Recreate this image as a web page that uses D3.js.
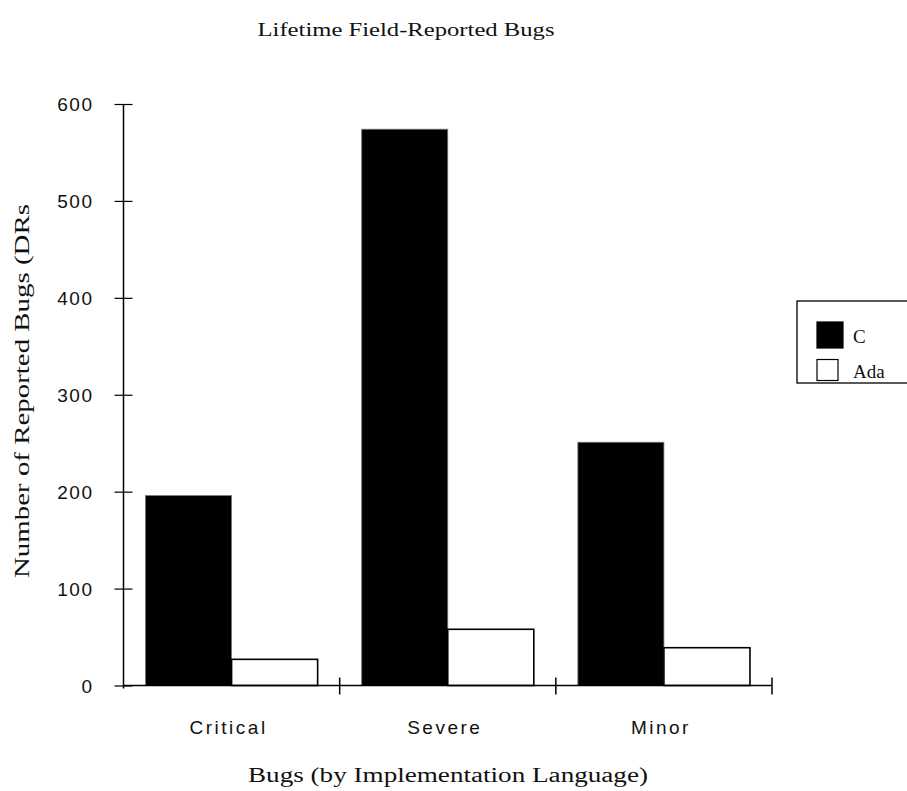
<!DOCTYPE html>
<html>
<head>
<meta charset="utf-8">
<script src="https://cdn.jsdelivr.net/npm/d3@7/dist/d3.min.js"></script>
<style>
  html, body { margin: 0; padding: 0; background: #fff; }
  svg { display: block; }
</style>
</head>
<body>
<script>
const categories = ["Critical", "Severe", "Minor"];
const seriesNames = ["C", "Ada"];
const cValues = [196, 574, 251];
const adaValues = [27, 58, 39];
const yTicks = [0, 100, 200, 300, 400, 500, 600];
const titleText = "Lifetime Field-Reported Bugs";
const xTitleText = "Bugs (by Implementation Language)";
const yTitleText = "Number of Reported Bugs (DRs";

const W = 907, H = 791;
const svg = d3.select("body").append("svg").attr("width", W).attr("height", H);

const serif = "'Liberation Serif', 'DejaVu Serif', serif";
const sans = "'Liberation Sans', Arial, sans-serif";

const x0 = d3.scaleBand().domain(categories).range([123.5, 772]).paddingInner(0).paddingOuter(0);
const x1 = d3.scaleBand().domain(seriesNames).range([0, x0.bandwidth()]).paddingInner(0).paddingOuter(0.256);
const y = d3.scaleLinear().domain([0, 600]).range([685.5, 104]);

const data = categories.map((c, i) => ({ cat: c, vals: [
  { s: "C", v: cValues[i] }, { s: "Ada", v: adaValues[i] } ] }));

// bars
const g = svg.append("g");
g.selectAll("g.cat").data(data).join("g")
  .attr("transform", d => `translate(${x0(d.cat)},0)`)
  .selectAll("rect").data(d => d.vals).join("rect")
  .attr("x", d => x1(d.s))
  .attr("width", x1.bandwidth())
  .attr("y", d => y(d.v))
  .attr("height", d => y(0) - y(d.v))
  .attr("fill", d => d.s === "C" ? "#000" : "#fff")
  .attr("stroke", d => d.s === "C" ? "#777" : "#000")
  .attr("stroke-width", d => d.s === "C" ? 0.8 : 1.6);

// y axis
const yAxis = d3.axisLeft(y).tickValues(yTicks).tickSize(0).tickPadding(30);
const ya = svg.append("g").attr("transform", "translate(123.5,0)").call(yAxis);
ya.select(".domain").remove();
ya.append("line").attr("x1", 0).attr("x2", 0).attr("y1", y(600)).attr("y2", y(0) + 3)
  .attr("stroke", "#000").attr("stroke-width", 1.5);
ya.selectAll(".tick").append("line").attr("x1", -9).attr("x2", 9)
  .attr("stroke", "#000").attr("stroke-width", 1.2);
ya.selectAll(".tick text").attr("font-family", sans).attr("font-size", 19)
  .attr("letter-spacing", "1.5px").attr("fill", "#111").attr("dy", "0.36em");

// x axis
const xa = svg.append("g").attr("transform", `translate(0,${y(0)})`);
xa.append("line").attr("x1", 123.5).attr("x2", 772).attr("stroke", "#000").attr("stroke-width", 1.5);
const bounds = categories.map(c => x0(c)).concat([x0(categories[categories.length - 1]) + x0.bandwidth()]);
xa.selectAll("line.tk").data(bounds.slice(1)).join("line").attr("class", "tk")
  .attr("x1", d => d).attr("x2", d => d).attr("y1", -8).attr("y2", 9)
  .attr("stroke", "#000").attr("stroke-width", 1.5);
xa.selectAll("text.cl").data(categories).join("text").attr("class", "cl")
  .attr("x", d => x0(d) + x0.bandwidth() / 2 - 3)
  .attr("y", 48)
  .attr("text-anchor", "middle")
  .attr("font-family", sans).attr("font-size", 19).attr("letter-spacing", "2.5px")
  .attr("fill", "#111")
  .text(d => d);

// titles
svg.append("text").attr("x", 406).attr("y", 36).attr("text-anchor", "middle")
  .attr("font-family", serif).attr("font-size", 19).attr("fill", "#111")
  .attr("textLength", 297).attr("lengthAdjust", "spacingAndGlyphs")
  .text(titleText);
svg.append("text").attr("x", 448).attr("y", 782).attr("text-anchor", "middle")
  .attr("font-family", serif).attr("font-size", 20).attr("fill", "#111")
  .attr("textLength", 400).attr("lengthAdjust", "spacingAndGlyphs")
  .text(xTitleText);
svg.append("text").attr("transform", "translate(29,391) rotate(-90)").attr("text-anchor", "middle")
  .attr("font-family", serif).attr("font-size", 20).attr("fill", "#111")
  .attr("textLength", 374).attr("lengthAdjust", "spacingAndGlyphs")
  .text(yTitleText);

// legend
const lg = svg.append("g");
lg.append("rect").attr("x", 797).attr("y", 301).attr("width", 130).attr("height", 82)
  .attr("fill", "#fff").attr("stroke", "#000").attr("stroke-width", 1.3);
const swatchSize = [26, 21];
seriesNames.forEach((s, i) => {
  const cy = 335 + i * 35;
  const sz = swatchSize[i];
  lg.append("rect").attr("x", 817).attr("y", cy - sz / 2).attr("width", sz).attr("height", sz)
    .attr("fill", s === "C" ? "#000" : "#fff").attr("stroke", "#000").attr("stroke-width", 1.2);
  lg.append("text").attr("x", 853).attr("y", cy + 8)
    .attr("font-family", serif).attr("font-size", 19).attr("fill", "#111")
    .text(s);
});
</script>
</body>
</html>
